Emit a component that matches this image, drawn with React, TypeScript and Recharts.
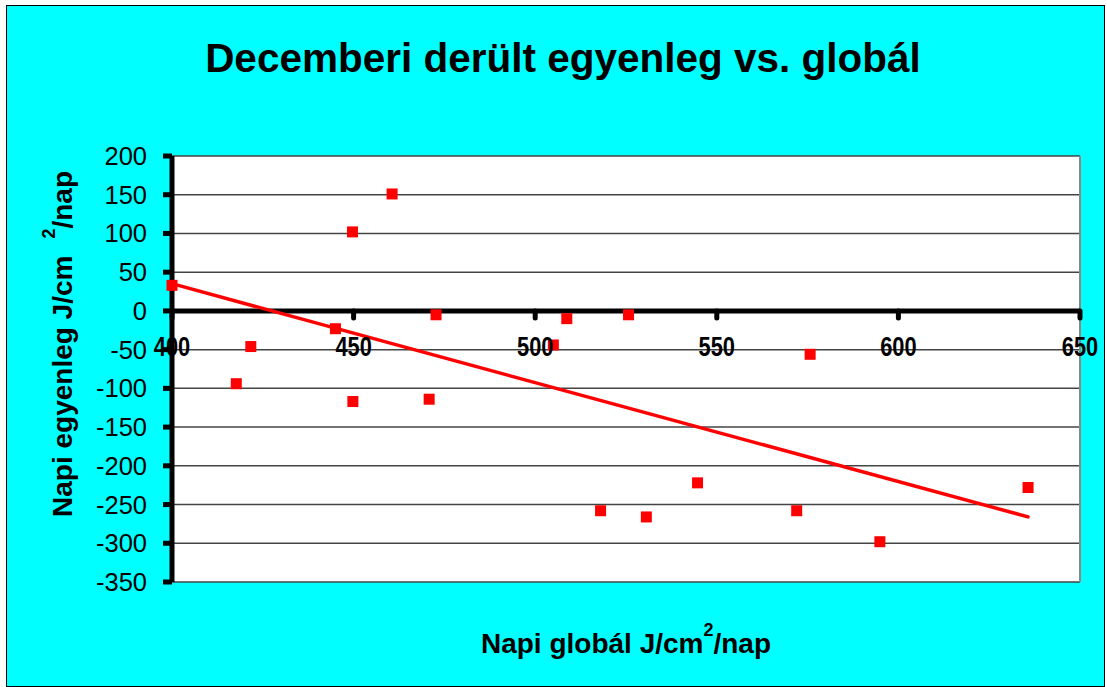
import React from 'react';
import { ScatterChart, Scatter, XAxis, YAxis, CartesianGrid, ReferenceLine, ReferenceDot } from 'recharts';

// values
const globalValues = [400, 417.7, 421.7, 445, 449.7, 449.8, 460.6, 470.8, 472.7, 505, 508.7, 518, 525.7, 530.6, 544.7, 572, 575.7, 594.9, 635.7];
const balanceValues = [33, -94, -46, -23, 102, -117, 151, -114, -5, -44, -10, -258, -5, -266, -222, -258, -56, -298, -228];
const xTicks = [400, 450, 500, 550, 600, 650];
const yTicks = [-350, -300, -250, -200, -150, -100, -50, 0, 50, 100, 150, 200];

const points = globalValues.map((x, i) => ({ x, y: balanceValues[i] }));

// least-squares trendline, like the Excel linear trend
const n = points.length;
const meanX = globalValues.reduce((s, v) => s + v, 0) / n;
const meanY = balanceValues.reduce((s, v) => s + v, 0) / n;
let sxy = 0;
let sxx = 0;
points.forEach((p) => {
  sxy += (p.x - meanX) * (p.y - meanY);
  sxx += (p.x - meanX) * (p.x - meanX);
});
const slope = sxy / sxx;
const intercept = meanY - slope * meanX;
const minX = Math.min(...globalValues);
const maxX = Math.max(...globalValues);
const trend = [
  { x: minX, y: intercept + slope * minX },
  { x: maxX, y: intercept + slope * maxX },
];

const FONT = 'Liberation Sans, Arial, sans-serif';

const SquareDot = (props: any) => {
  const { cx, cy } = props;
  if (cx == null || cy == null) return null;
  return <rect x={cx - 5.5} y={cy - 5.5} width={11} height={11} fill="#ff0000" />;
};

const YTick = (props: any) => {
  const { x, y, payload } = props;
  return (
    <text x={x} y={y} dy={9} textAnchor="end" fontFamily={FONT} fontSize={25.5} fill="#000">
      {payload.value}
    </text>
  );
};

const XTickAtZero = (props: any) => {
  const { cx, cy, value } = props;
  return (
    <g>
      <line x1={cx} y1={cy} x2={cx} y2={cy + 7} stroke="#000" strokeWidth={5} strokeLinecap="round" />
      <text
        transform={`translate(${cx},${cy + 45}) scale(0.78,1)`}
        textAnchor="middle"
        fontFamily={FONT}
        fontWeight="bold"
        fontSize={28}
        fill="#000"
      >
        {value}
      </text>
    </g>
  );
};

export default function App() {
  return (
    <div style={{ position: 'absolute', left: 0, top: 0, width: 1107, height: 687, background: '#fff', overflow: 'hidden' }}>
      <div
        style={{
          position: 'absolute',
          left: 6,
          top: 5,
          width: 1097,
          height: 680,
          background: '#00ffff',
          border: '1.5px solid #000',
        }}
      />
      <div style={{ position: 'absolute', left: 0, top: 0 }}>
        <ScatterChart width={1107} height={687} margin={{ top: 156, right: 27, bottom: 105, left: 0 }}>
          <CartesianGrid vertical={false} stroke="#444" strokeWidth={1.5} fill="#fff" fillOpacity={1} />
          <XAxis type="number" dataKey="x" domain={[400, 650]} ticks={xTicks} hide />
          <YAxis
            type="number"
            dataKey="y"
            domain={[-350, 200]}
            ticks={yTicks}
            interval={0}
            width={172}
            tickSize={9}
            tickMargin={16}
            axisLine={{ stroke: '#000', strokeWidth: 5 }}
            tickLine={{ stroke: '#000', strokeWidth: 5 }}
            tick={<YTick />}
          />
          <ReferenceLine x={650} stroke="#888" strokeWidth={2} />
          <ReferenceLine y={0} stroke="#000" strokeWidth={5} />
          <ReferenceLine
            segment={trend}
            stroke="#ff0000"
            strokeWidth={3.5}
            strokeLinecap="round"
          />
          <Scatter data={points} shape={<SquareDot />} isAnimationActive={false} />
          {xTicks.map((t) => (
            <ReferenceDot key={t} x={t} y={0} shape={(p: any) => <XTickAtZero {...p} value={t} />} />
          ))}
        </ScatterChart>
      </div>
      <svg width={1107} height={687} style={{ position: 'absolute', left: 0, top: 0, pointerEvents: 'none' }}>
        <text x={563} y={72} textAnchor="middle" fontFamily={FONT} fontWeight="bold" fontSize={40.5} fill="#000">
          Decemberi derült egyenleg vs. globál
        </text>
        <text x={626} y={653} textAnchor="middle" fontFamily={FONT} fontWeight="bold" fontSize={28} fill="#000">
          Napi globál J/cm
          <tspan fontSize={18} dy={-17}>2</tspan>
          <tspan dy={17}>/nap</tspan>
        </text>
        <text
          transform="translate(72,344) rotate(-90)"
          textAnchor="middle"
          fontFamily={FONT}
          fontWeight="bold"
          fontSize={28}
          fill="#000"
        >
          Napi egyenleg J/cm
          <tspan fontSize={18} dx={17} dy={-17}>2</tspan>
          <tspan dy={17}>/nap</tspan>
        </text>
      </svg>
    </div>
  );
}
